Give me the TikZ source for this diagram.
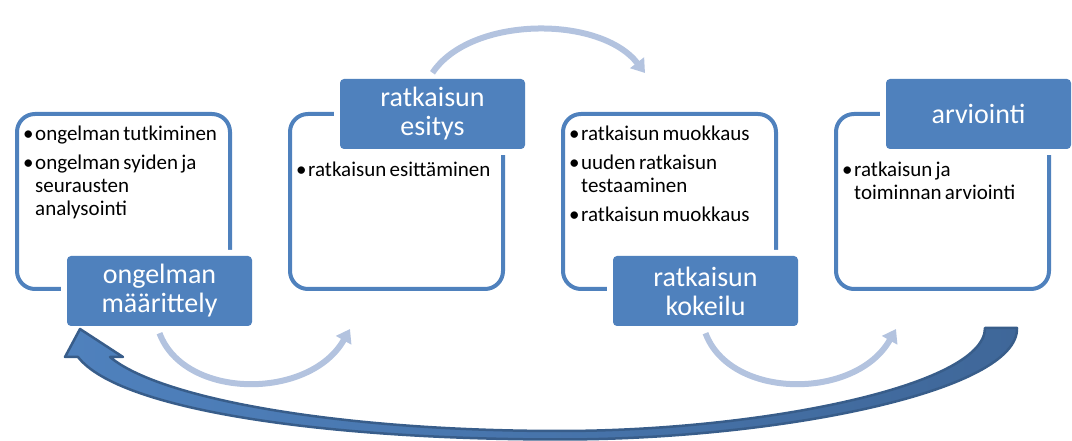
\documentclass[tikz,border=0pt]{standalone}
\usepackage{fontspec}
\setmainfont{Carlito}
\usetikzlibrary{positioning,arrows.meta}

\definecolor{stepblue}{HTML}{4F81BD}
\definecolor{flowblue}{HTML}{B3C3DF}
\definecolor{backline}{HTML}{385D8A}
\definecolor{backdark}{HTML}{3F6799}

% body font and one bullet point with hanging indent
\newcommand{\bodyfont}{\fontsize{21}{23}\selectfont\setlength{\parskip}{6pt}}
\newcommand{\bitem}[1]{\par\hangindent=12pt\hangafter=1\noindent\hbox to 12pt{\strut\textbullet\hss}#1\par}

\begin{document}
\begin{tikzpicture}[
  x=1pt, y=1pt,
  node distance=60pt,
  stepbox/.style={draw=stepblue, line width=4pt, rounded corners=18pt, outer sep=0pt,
    minimum width=213pt, minimum height=175pt},
  steplabel/.style={fill=stepblue, rounded corners=4pt, text=white, align=center,
    minimum width=185pt, minimum height=70pt, inner sep=0pt,
    font=\fontsize{28}{29}\selectfont, preaction={draw=white, line width=12pt}},
  steptext/.style={anchor=north west, text width=205pt, align=left, inner sep=0pt},
  flow/.style={draw=flowblue, line width=6pt, -{Triangle[length=13pt, width=17pt]}}
]
\useasboundingbox (0,0) rectangle (1072,441);

% Frames
\node[stepbox] (b1) at (123.5,239.5) {};
\node[stepbox, right=of b1] (b2) {};
\node[stepbox, right=of b2] (b3) {};
\node[stepbox, right=of b3] (b4) {};

% Titles
\node[steplabel] (l1) at ([xshift=36pt, yshift=-2pt]b1.south) {ongelman\\määrittely};
\node[steplabel] (l2) at ([xshift=36pt]b2.north) {ratkaisun\\esitys};
\node[steplabel] (l3) at ([xshift=36pt, yshift=-2pt]b3.south) {ratkaisun\\kokeilu};
\node[steplabel] (l4) at ([xshift=36pt]b4.north) {arviointi};

% Contents
\node[steptext] (t1) at ([shift={(6pt,3pt)}]b1.north west) {\bodyfont
  \bitem{ongelman tutkiminen}
  \bitem{ongelman syiden ja\newline seurausten\newline analysointi}};
\node[steptext] (t2) at ([shift={(6pt,2pt)}]b2.west |- l2.south) {\bodyfont
  \bitem{ratkaisun esittäminen}};
\node[steptext] (t3) at ([shift={(6pt,3pt)}]b3.north west) {\bodyfont
  \bitem{ratkaisun muokkaus}
  \bitem{uuden ratkaisun\newline testaaminen}
  \bitem{ratkaisun muokkaus}};
\node[steptext] (t4) at ([shift={(6pt,2pt)}]b4.west |- l4.south) {\bodyfont
  \bitem{ratkaisun ja\newline toiminnan arviointi}};

% Forward arrows
\draw[flow] ([yshift=-7pt]l1.south) .. controls +(25,-67) and +(-40,-71) .. ([shift={(60pt,-40pt)}]b2.south west);
\draw[flow] ([yshift=6pt]l2.north) .. controls +(38,57) and +(-45,58) .. ([shift={(82pt,41pt)}]b3.north west);
\draw[flow] ([yshift=-7pt]l3.south) .. controls +(25,-67) and +(-40,-71) .. ([shift={(60pt,-40pt)}]b4.south west);

% Return arrow
\draw[draw=backline, line width=2.5pt, line join=round, left color=stepblue, right color=backdark]
  (1017,113) .. controls (1019,50) and (780,1.5) .. (560,1.5)
  .. controls (330,1.5) and (120,30) .. (78,84)
  -- (65,84) -- (80,112) -- (123,84) -- (110,84)
  .. controls (160,42) and (340,10) .. (560,10)
  .. controls (760,10) and (985,55) .. (985,113) -- cycle;

\end{tikzpicture}
\end{document}
